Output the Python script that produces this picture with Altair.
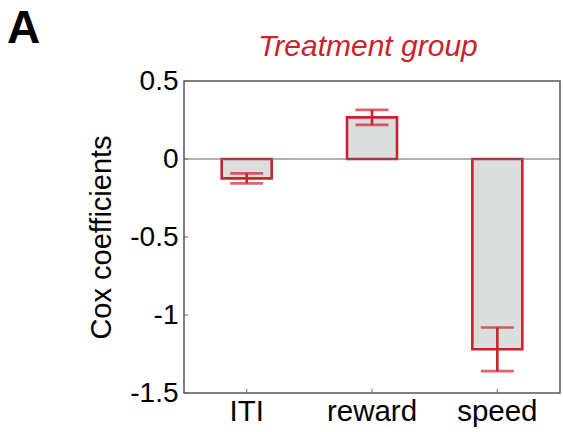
import altair as alt
import pandas as pd

# ---- data ----
categories = ["ITI", "reward", "speed"]
coef = [-0.124, 0.267, -1.22]
err = [0.032, 0.048, 0.14]
y_ticks = [0.5, 0, -0.5, -1, -1.5]

RED = "#c9232c"
FILL = "#dcdddd"
FONT = "Liberation Sans"

df = pd.DataFrame({"cat": categories, "coef": coef, "err": err})
df["lo"] = df["coef"] - df["err"]
df["hi"] = df["coef"] + df["err"]

W, H = 376, 312

xaxis = alt.Axis(title=None, labelAngle=0, labelFontSize=29.5, labelPadding=4,
                 domain=False, ticks=False, labelColor="black")
xscale = alt.Scale(paddingInner=0, paddingOuter=0)
yscale = alt.Scale(domain=[-1.5, 0.5], nice=False, zero=False)
yaxis = alt.Axis(title="Cox coefficients", values=y_ticks,
                 labelExpr="toString(datum.value)",
                 labelFontSize=28, labelPadding=6, labelColor="black",
                 titleFontSize=29, titleFontWeight="normal", titleColor="black",
                 titlePadding=13, domain=False, ticks=False, grid=False)


def X(field="cat:N"):
    return alt.X(field, sort=categories, scale=xscale, axis=xaxis)


def Y(field):
    return alt.Y(field, scale=yscale, axis=yaxis)


base = alt.Chart(df)

bars = base.mark_bar(fill=FILL, stroke=RED, strokeWidth=2.6, size=50).encode(
    x=X(), y=Y("coef:Q"), y2=alt.datum(0),
)

zero = alt.Chart(pd.DataFrame({"z": [0]})).mark_rule(color="#666666", strokeWidth=1.2).encode(
    y=Y("z:Q")
)

err_rule = base.mark_rule(color=RED, strokeWidth=2.6).encode(
    x=X(), y=Y("lo:Q"), y2="hi:Q"
)
cap_lo = base.mark_tick(color=RED, thickness=2.6, size=33).encode(x=X(), y=Y("lo:Q"))
cap_hi = base.mark_tick(color=RED, thickness=2.6, size=33).encode(x=X(), y=Y("hi:Q"))

# inward ticks
yt = alt.Chart(pd.DataFrame({"v": y_ticks})).mark_rule(color="#666666", strokeWidth=1).encode(
    y=Y("v:Q"), x=alt.value(0), x2=alt.value(4)
)
xt = alt.Chart(pd.DataFrame({"cat": categories})).mark_rule(color="#666666", strokeWidth=1).encode(
    x=X(), y=alt.value(H), y2=alt.value(H - 4)
)

panel = alt.Chart(pd.DataFrame({"t": ["A"]})).mark_text(
    font=FONT, fontSize=46, fontWeight="bold", align="left", baseline="alphabetic", color="black"
).encode(text="t:N", x=alt.value(-177), y=alt.value(-38))

title = alt.Chart(pd.DataFrame({"t": ["Treatment group"]})).mark_text(
    font=FONT, fontSize=30, fontStyle="italic", align="center", baseline="alphabetic", color=RED
).encode(text="t:N", x=alt.value(W / 2 - 4), y=alt.value(-25))

chart = alt.layer(bars, zero, err_rule, cap_lo, cap_hi, yt, xt, panel, title).properties(
    width=W, height=H,
    autosize=alt.AutoSizeParams(type="none"),
    padding={"left": 184, "top": 81, "right": 3, "bottom": 39},
    background="white",
).configure(font=FONT).configure_view(stroke="#555555", strokeWidth=1.5)

chart.save("out.html", embed_options={"renderer": "svg", "actions": False})
